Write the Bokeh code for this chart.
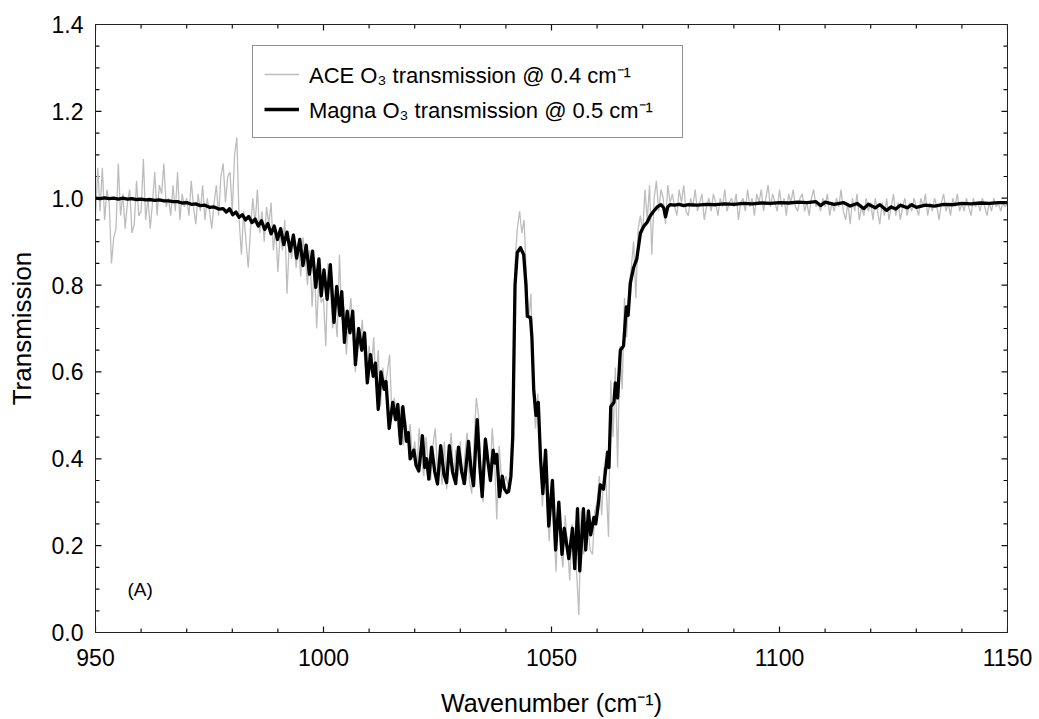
import numpy as np
from bokeh.plotting import figure
from bokeh.models import (LinearAxis, FixedTicker, PrintfTickFormatter,
                          Legend, LegendItem, Label, Range1d)
from bokeh.embed import file_html
from bokeh.resources import INLINE

# ---------------- data ----------------
# ACE O3 transmission, sampled every 0.5 cm-1 from 950 cm-1
ace_start = 950.0
ace_step = 0.5
ace_t = [
    0.96, 1.07, 0.97, 1.07, 0.95, 1.02, 0.99, 0.85, 0.91, 0.93, 1.08, 0.96, 1.01, 0.93, 0.99, 1.02, 0.92, 0.94, 1.04, 0.96,
    0.97, 1.09, 0.95, 1.00, 0.93, 0.99, 1.06, 0.96, 1.03, 1.01, 1.08, 0.98, 1.00, 0.96, 1.03, 0.97, 1.06, 0.95, 1.01, 0.98,
    1.00, 0.96, 1.04, 0.98, 0.94, 1.01, 0.97, 1.03, 0.95, 1.00, 0.97, 0.93, 0.99, 1.03, 0.96, 1.05, 1.08, 0.99, 1.05, 1.06,
    0.97, 1.10, 1.14, 0.95, 0.87, 0.97, 0.90, 0.84, 0.93, 1.00, 0.94, 1.02, 0.92, 0.97, 0.90, 0.98, 0.94, 0.99, 0.88, 0.93,
    0.83, 0.92, 0.88, 0.95, 0.78, 0.90, 0.86, 0.92, 0.84, 0.90, 0.82, 0.91, 0.86, 0.80, 0.88, 0.75, 0.85, 0.70, 0.82, 0.76,
    0.77, 0.66, 0.85, 0.80, 0.70, 0.74, 0.68, 0.87, 0.72, 0.75, 0.64, 0.71, 0.77, 0.69, 0.60, 0.70, 0.66, 0.72, 0.63, 0.58,
    0.66, 0.60, 0.68, 0.57, 0.65, 0.52, 0.61, 0.56, 0.60, 0.64, 0.50, 0.54, 0.51, 0.45, 0.52, 0.43, 0.49, 0.44, 0.48, 0.40,
    0.44, 0.38, 0.47, 0.40, 0.36, 0.45, 0.38, 0.35, 0.43, 0.47, 0.37, 0.41, 0.34, 0.44, 0.33, 0.40, 0.46, 0.35, 0.42, 0.36,
    0.44, 0.34, 0.41, 0.46, 0.35, 0.32, 0.43, 0.54, 0.50, 0.37, 0.30, 0.45, 0.42, 0.35, 0.47, 0.40, 0.26, 0.43, 0.36, 0.34,
    0.36, 0.34, 0.34, 0.52, 0.85, 0.93, 0.97, 0.92, 0.95, 0.82, 0.72, 0.78, 0.55, 0.47, 0.55, 0.42, 0.29, 0.40, 0.30, 0.21,
    0.31, 0.25, 0.14, 0.29, 0.20, 0.15, 0.27, 0.20, 0.12, 0.25, 0.19, 0.14, 0.04, 0.28, 0.18, 0.20, 0.24, 0.19, 0.18, 0.28,
    0.30, 0.36, 0.27, 0.38, 0.34, 0.22, 0.58, 0.45, 0.61, 0.38, 0.66, 0.56, 0.77, 0.68, 0.80, 0.84, 0.90, 0.77, 0.93, 0.96,
    0.92, 1.02, 0.95, 1.03, 0.87, 1.00, 1.04, 0.97, 1.02, 1.00, 0.94, 1.03, 0.99, 1.01, 0.98, 0.96, 1.02, 0.99, 1.03, 0.97,
    0.96, 1.00, 0.98, 1.02, 0.97, 0.99, 1.01, 0.95, 0.98, 1.00, 0.97, 1.01, 0.99, 0.96, 1.00, 0.98, 1.02, 0.97, 0.99, 1.00,
    0.98, 1.01, 0.95, 0.99, 1.00, 0.97, 1.02, 0.98, 1.00, 0.96, 1.01, 0.99, 1.02, 0.97, 1.00, 1.03, 0.98, 1.01, 0.99, 0.97,
    1.02, 0.98, 1.00, 0.96, 1.01, 0.99, 1.02, 0.98, 0.97, 1.00, 1.01, 0.97, 0.99, 0.96, 1.00, 1.02, 0.98, 0.99, 0.97, 1.00,
    0.98, 1.01, 0.96, 0.99, 0.97, 1.00, 0.98, 1.02, 0.97, 0.95, 0.99, 0.94, 1.00, 0.97, 1.01, 0.95, 0.98, 0.96, 1.00, 0.97,
    0.99, 0.95, 1.00, 0.97, 0.94, 0.99, 0.96, 1.00, 0.95, 0.98, 1.01, 0.96, 0.99, 0.95, 0.98, 1.00, 0.96, 0.99, 0.97, 1.00,
    0.98, 0.96, 1.00, 0.98, 1.01, 0.96, 0.99, 0.97, 1.00, 0.98, 0.95, 0.99, 1.01, 0.97, 0.99, 0.96, 1.00, 0.98, 1.01, 0.97,
    0.99, 0.97, 1.00, 0.98, 0.96, 1.00, 0.98, 0.99, 0.97, 1.00, 0.98, 0.96, 0.99, 0.97, 1.00, 0.98, 0.99, 0.97, 0.99, 0.98,
    0.99,
]
ace_wn = [ace_start + ace_step * i for i in range(len(ace_t))]

# Magna O3 transmission (wavenumber, transmission)
mag_wn = [
    950.0, 951.0, 952.0, 953.0, 954.0, 955.0, 956.0, 957.0, 958.0, 959.0,
    960.0, 961.0, 962.0, 963.0, 964.0, 965.0, 966.0, 967.0, 968.0, 969.0,
    970.0, 971.0, 972.0, 973.0, 974.0, 975.0, 976.0, 977.0,
    978.0, 978.7, 979.4, 980.1, 980.8, 981.5, 982.2, 982.9, 983.6, 984.3,
    985.0, 985.7, 986.4, 987.1, 987.8, 988.5, 989.2, 989.9, 990.6, 991.3,
    992.0, 992.7, 993.4, 994.1, 994.8, 995.5, 996.2, 996.9, 997.6, 998.3,
    999.0, 999.5, 1000.1, 1000.8, 1001.5, 1002.3, 1002.9, 1003.6, 1004.0, 1004.6,
    1005.2, 1005.8, 1006.4, 1007.0, 1007.7, 1008.4, 1009.0, 1009.6, 1010.3, 1010.9,
    1011.4, 1012.0, 1012.6, 1013.3, 1013.7, 1014.4, 1015.2, 1015.8, 1016.3, 1016.9,
    1017.4, 1018.2, 1018.6, 1019.0, 1019.8, 1020.3, 1020.9, 1021.7, 1022.2, 1022.6,
    1023.1, 1023.7, 1024.4, 1025.0, 1025.7, 1026.4, 1027.0, 1027.6, 1028.3, 1029.0,
    1029.6, 1030.3, 1030.9, 1031.8, 1032.4, 1032.9, 1033.7, 1034.3, 1034.8, 1035.5,
    1036.1, 1036.6, 1037.2, 1037.6, 1038.0, 1038.6, 1039.2, 1039.7, 1040.2, 1040.6,
    1041.1, 1041.5, 1042.0, 1042.5, 1043.2, 1043.9, 1044.4, 1044.7, 1045.4, 1045.7,
    1046.1, 1046.6, 1047.1, 1047.6, 1048.1, 1048.7, 1049.4, 1050.2, 1050.9, 1051.6,
    1052.3, 1052.8, 1053.8, 1054.6, 1055.1, 1055.7, 1056.2, 1057.0, 1057.5, 1058.1,
    1058.6, 1059.3, 1059.7, 1060.2, 1060.7, 1061.4, 1062.3, 1062.6, 1063.0, 1063.7,
    1064.0, 1064.5, 1065.1, 1065.8, 1066.4, 1066.8, 1067.3, 1068.0, 1068.7, 1069.5,
    1070.2, 1071.0, 1071.7, 1072.4, 1073.2, 1074.0, 1074.6, 1075.0, 1075.5, 1076.0,
    1077.0, 1078.0, 1079.0, 1080.0, 1082.0, 1084.0, 1086.0, 1088.0, 1090.0, 1092.0,
    1094.0, 1096.0, 1098.0, 1100.0, 1102.0, 1104.0, 1106.0, 1108.0, 1109.0, 1110.0,
    1112.0, 1114.0, 1115.5, 1117.0, 1118.5, 1119.5, 1121.0, 1122.0, 1123.5, 1124.5,
    1125.5, 1126.5, 1128.0, 1129.0, 1130.0, 1132.0, 1134.0, 1136.0, 1138.0, 1140.0,
    1142.0, 1144.0, 1146.0, 1148.0, 1150.0,
]
mag_t = [
    1.000, 0.999, 1.001, 0.999, 1.000, 0.998, 1.000, 0.998, 0.999, 0.997,
    0.998, 0.996, 0.997, 0.995, 0.996, 0.994, 0.994, 0.992, 0.992, 0.989,
    0.990, 0.986, 0.987, 0.983, 0.984, 0.979, 0.980, 0.975,
    0.976, 0.968, 0.976, 0.962, 0.968, 0.956, 0.962, 0.950, 0.958, 0.944,
    0.952, 0.936, 0.948, 0.928, 0.942, 0.918, 0.936, 0.905, 0.930, 0.893,
    0.922, 0.878, 0.915, 0.862, 0.905, 0.845, 0.892, 0.825, 0.878, 0.795,
    0.860, 0.775, 0.835, 0.767, 0.847, 0.714, 0.797, 0.730, 0.785, 0.668,
    0.740, 0.690, 0.740, 0.617, 0.700, 0.650, 0.690, 0.575, 0.640, 0.590,
    0.620, 0.514, 0.600, 0.560, 0.578, 0.470, 0.530, 0.490, 0.525, 0.435,
    0.520, 0.440, 0.460, 0.400, 0.420, 0.385, 0.372, 0.453, 0.380, 0.400,
    0.353, 0.427, 0.370, 0.342, 0.430, 0.365, 0.345, 0.430, 0.370, 0.343,
    0.427, 0.370, 0.343, 0.440, 0.370, 0.338, 0.490, 0.380, 0.313, 0.445,
    0.390, 0.350, 0.420, 0.390, 0.410, 0.313, 0.360, 0.330, 0.322, 0.325,
    0.360, 0.450, 0.800, 0.875, 0.886, 0.870, 0.800, 0.728, 0.725, 0.680,
    0.560, 0.500, 0.530, 0.400, 0.320, 0.420, 0.245, 0.350, 0.190, 0.300,
    0.180, 0.240, 0.170, 0.240, 0.147, 0.285, 0.142, 0.285, 0.190, 0.280,
    0.225, 0.265, 0.250, 0.290, 0.340, 0.330, 0.415, 0.380, 0.520, 0.530,
    0.575, 0.540, 0.650, 0.660, 0.750, 0.730, 0.805, 0.840, 0.860, 0.920,
    0.935, 0.945, 0.960, 0.970, 0.980, 0.985, 0.978, 0.957, 0.980, 0.985,
    0.984, 0.986, 0.983, 0.985, 0.984, 0.986, 0.985, 0.987, 0.986, 0.988,
    0.987, 0.989, 0.988, 0.990, 0.989, 0.991, 0.990, 0.992, 0.983, 0.991,
    0.986, 0.990, 0.982, 0.988, 0.976, 0.986, 0.978, 0.985, 0.972, 0.980,
    0.975, 0.984, 0.978, 0.985, 0.979, 0.984, 0.982, 0.986, 0.985, 0.988,
    0.987, 0.989, 0.988, 0.990, 0.990,
]

# axis ranges and ticks
x_min, x_max = 950, 1150
y_min, y_max = 0.0, 1.4
x_major = [950, 1000, 1050, 1100, 1150]
x_minor = [v for v in range(960, 1150, 10) if v % 50 != 0]
y_major = [0.0, 0.2, 0.4, 0.6, 0.8, 1.0, 1.2, 1.4]
y_minor = [round(0.05 * k, 2) for k in range(1, 28) if k % 4 != 0]

legend_labels = ["ACE O\u2083 transmission @ 0.4 cm\u207B\u00B9",
                 "Magna O\u2083 transmission @ 0.5 cm\u207B\u00B9"]
panel_label = "(A)"

FONT = "Liberation Sans"
W, H = 1039, 719
ML, MR, MT, MB = 95, 32, 24, 85
frame_w = W - ML - MR
frame_h = H - MT - MB

# ---------------- figure ----------------
p = figure(width=W, height=H, output_backend="svg", toolbar_location=None,
           x_range=Range1d(x_min, x_max), y_range=Range1d(y_min, y_max),
           min_border_left=ML, min_border_right=MR, min_border_top=MT,
           min_border_bottom=MB, x_axis_location=None, y_axis_location=None)
p.grid.visible = False
p.outline_line_color = "#222222"
p.outline_line_width = 1
p.background_fill_color = "white"
p.border_fill_color = "white"

def style_axis(ax, ticks, show_labels):
    ax.ticker = FixedTicker(ticks=ticks, minor_ticks=[])
    ax.axis_line_color = "#222222"
    ax.major_tick_in = 0
    ax.major_tick_out = 0
    ax.minor_tick_in = 0
    ax.minor_tick_out = 0
    ax.major_label_text_font = FONT
    ax.major_label_text_font_size = "23px"
    ax.major_label_text_color = "black"
    ax.axis_label_text_font = FONT
    ax.axis_label_text_font_style = "normal"
    ax.axis_label_text_color = "black"
    if not show_labels:
        ax.major_label_text_font_size = "0px"
        ax.major_label_text_alpha = 0

xb = LinearAxis(axis_label="Wavenumber (cm\u207B\u00B9)")
style_axis(xb, x_major, True)
xb.axis_label_text_font_size = "25px"
xb.major_label_standoff = 16
xb.axis_label_standoff = 20
p.add_layout(xb, "below")

xt = LinearAxis()
style_axis(xt, x_major, False)
p.add_layout(xt, "above")

yl = LinearAxis(axis_label="Transmission")
style_axis(yl, y_major, True)
yl.axis_label_text_font_size = "26px"
yl.formatter = PrintfTickFormatter(format="%.1f")
yl.major_label_standoff = 12
yl.axis_label_standoff = 12
p.add_layout(yl, "left")

yr = LinearAxis()
style_axis(yr, y_major, False)
p.add_layout(yr, "right")

# inward tick marks on all four sides (lengths in pixels -> data units)
dx = (x_max - x_min) / frame_w
dy = (y_max - y_min) / frame_h
MAJ, MIN = 6, 4
tick_col = "#111111"
for ticks, ln in ((x_major, MAJ), (x_minor, MIN)):
    p.segment(x0=ticks, y0=[y_min] * len(ticks), x1=ticks, y1=[y_min + ln * dy] * len(ticks),
              line_color=tick_col, line_width=1.2)
    p.segment(x0=ticks, y0=[y_max] * len(ticks), x1=ticks, y1=[y_max - ln * dy] * len(ticks),
              line_color=tick_col, line_width=1.2)
for ticks, ln in ((y_major, MAJ), (y_minor, MIN)):
    p.segment(x0=[x_min] * len(ticks), y0=ticks, x1=[x_min + ln * dx] * len(ticks), y1=ticks,
              line_color=tick_col, line_width=1.2)
    p.segment(x0=[x_max] * len(ticks), y0=ticks, x1=[x_max - ln * dx] * len(ticks), y1=ticks,
              line_color=tick_col, line_width=1.2)

r_ace = p.line(ace_wn, ace_t, line_color="#bdbdbd", line_width=1.3)
r_mag = p.line(mag_wn, mag_t, line_color="black", line_width=3.3, line_join="round")

legend = Legend(items=[LegendItem(label=legend_labels[0], renderers=[r_ace]),
                       LegendItem(label=legend_labels[1], renderers=[r_mag])],
                location=(157, 494), orientation="vertical")
legend.border_line_color = "#222222"
legend.border_line_width = 1
legend.background_fill_alpha = 1.0
legend.label_text_font = FONT
legend.label_text_font_size = "22px"
legend.label_text_color = "black"
legend.glyph_width = 35
legend.glyph_height = 34
legend.label_height = 34
legend.label_width = 362
legend.label_standoff = 10
legend.spacing = 1
legend.padding = 11
legend.margin = 0
p.add_layout(legend, "center")

p.add_layout(Label(x=957, y=0.075, text=panel_label, text_font=FONT,
                   text_font_size="19px", text_color="black"))

open("out.html", "w").write(file_html(p, INLINE))
